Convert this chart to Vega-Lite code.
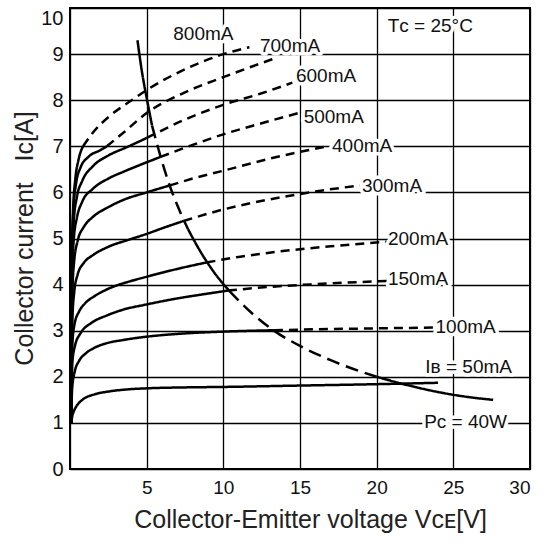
{
  "$schema": "https://vega.github.io/schema/vega-lite/v6.json",
  "width": 460,
  "height": 461,
  "autosize": {"type": "none"},
  "padding": {"left": 70, "top": 8, "right": 13, "bottom": 76},
  "background": "white",
  "config": {
    "view": {"stroke": "black", "strokeWidth": 2},
    "axis": {
      "grid": true,
      "gridColor": "black",
      "gridOpacity": 1,
      "gridWidth": 1.3,
      "domain": false,
      "ticks": false,
      "tickSize": 0,
      "labelColor": "#111",
      "labelFont": "Liberation Sans",
      "titleColor": "#222",
      "titleFont": "Liberation Sans",
      "titleFontWeight": "normal",
      "titleFontSize": 25
    }
  },
  "datasets": {
    "curves": [
      {"seg": "800a", "dash": "solid", "x": 0.08, "y": 1.0},
      {"seg": "800a", "dash": "solid", "x": 0.12, "y": 4.5},
      {"seg": "800a", "dash": "solid", "x": 0.2, "y": 5.6},
      {"seg": "800a", "dash": "solid", "x": 0.35, "y": 6.3},
      {"seg": "800a", "dash": "solid", "x": 0.55, "y": 6.7},
      {"seg": "800a", "dash": "solid", "x": 0.85, "y": 7.0},
      {"seg": "800b", "dash": "dashed", "x": 0.85, "y": 7.0},
      {"seg": "800b", "dash": "dashed", "x": 1.5, "y": 7.3},
      {"seg": "800b", "dash": "dashed", "x": 2.6, "y": 7.66},
      {"seg": "800b", "dash": "dashed", "x": 3.9, "y": 7.97},
      {"seg": "800b", "dash": "dashed", "x": 5, "y": 8.22},
      {"seg": "800b", "dash": "dashed", "x": 7.5, "y": 8.67},
      {"seg": "800b", "dash": "dashed", "x": 10, "y": 9.0},
      {"seg": "800b", "dash": "dashed", "x": 11.7, "y": 9.15},

      {"seg": "700a", "dash": "solid", "x": 0.08, "y": 1.0},
      {"seg": "700a", "dash": "solid", "x": 0.13, "y": 4.5},
      {"seg": "700a", "dash": "solid", "x": 0.22, "y": 5.6},
      {"seg": "700a", "dash": "solid", "x": 0.4, "y": 6.2},
      {"seg": "700a", "dash": "solid", "x": 0.7, "y": 6.55},
      {"seg": "700a", "dash": "solid", "x": 1.2, "y": 6.77},
      {"seg": "700a", "dash": "solid", "x": 2.0, "y": 6.92},
      {"seg": "700a", "dash": "solid", "x": 2.4, "y": 7.0},
      {"seg": "700b", "dash": "dashed", "x": 2.4, "y": 7.0},
      {"seg": "700b", "dash": "dashed", "x": 3.5, "y": 7.3},
      {"seg": "700b", "dash": "dashed", "x": 5, "y": 7.72},
      {"seg": "700b", "dash": "dashed", "x": 7.5, "y": 8.17},
      {"seg": "700b", "dash": "dashed", "x": 10, "y": 8.5},
      {"seg": "700b", "dash": "dashed", "x": 13.2, "y": 8.89},

      {"seg": "600a", "dash": "solid", "x": 0.08, "y": 1.0},
      {"seg": "600a", "dash": "solid", "x": 0.14, "y": 4.5},
      {"seg": "600a", "dash": "solid", "x": 0.25, "y": 5.4},
      {"seg": "600a", "dash": "solid", "x": 0.45, "y": 5.9},
      {"seg": "600a", "dash": "solid", "x": 0.8, "y": 6.25},
      {"seg": "600a", "dash": "solid", "x": 1.5, "y": 6.57},
      {"seg": "600a", "dash": "solid", "x": 2.5, "y": 6.8},
      {"seg": "600a", "dash": "solid", "x": 3.7, "y": 6.98},
      {"seg": "600a", "dash": "solid", "x": 5.0, "y": 7.18},
      {"seg": "600b", "dash": "dashed", "x": 5.0, "y": 7.18},
      {"seg": "600b", "dash": "dashed", "x": 7.5, "y": 7.58},
      {"seg": "600b", "dash": "dashed", "x": 10, "y": 7.9},
      {"seg": "600b", "dash": "dashed", "x": 12.5, "y": 8.15},
      {"seg": "600b", "dash": "dashed", "x": 14.5, "y": 8.38},

      {"seg": "500a", "dash": "solid", "x": 0.08, "y": 1.0},
      {"seg": "500a", "dash": "solid", "x": 0.14, "y": 4.2},
      {"seg": "500a", "dash": "solid", "x": 0.25, "y": 5.0},
      {"seg": "500a", "dash": "solid", "x": 0.45, "y": 5.45},
      {"seg": "500a", "dash": "solid", "x": 0.8, "y": 5.8},
      {"seg": "500a", "dash": "solid", "x": 1.5, "y": 6.08},
      {"seg": "500a", "dash": "solid", "x": 2.5, "y": 6.3},
      {"seg": "500a", "dash": "solid", "x": 3.5, "y": 6.45},
      {"seg": "500a", "dash": "solid", "x": 4.6, "y": 6.6},
      {"seg": "500a", "dash": "solid", "x": 5.9, "y": 6.77},
      {"seg": "500b", "dash": "dashed", "x": 5.9, "y": 6.77},
      {"seg": "500b", "dash": "dashed", "x": 8, "y": 7.03},
      {"seg": "500b", "dash": "dashed", "x": 10, "y": 7.26},
      {"seg": "500b", "dash": "dashed", "x": 12.5, "y": 7.5},
      {"seg": "500b", "dash": "dashed", "x": 15, "y": 7.73},

      {"seg": "400a", "dash": "solid", "x": 0.08, "y": 1.0},
      {"seg": "400a", "dash": "solid", "x": 0.15, "y": 3.8},
      {"seg": "400a", "dash": "solid", "x": 0.27, "y": 4.5},
      {"seg": "400a", "dash": "solid", "x": 0.5, "y": 4.95},
      {"seg": "400a", "dash": "solid", "x": 0.9, "y": 5.25},
      {"seg": "400a", "dash": "solid", "x": 1.5, "y": 5.47},
      {"seg": "400a", "dash": "solid", "x": 2.5, "y": 5.68},
      {"seg": "400a", "dash": "solid", "x": 3.5, "y": 5.84},
      {"seg": "400a", "dash": "solid", "x": 5, "y": 6.0},
      {"seg": "400a", "dash": "solid", "x": 6.5, "y": 6.15},
      {"seg": "400b", "dash": "dashed", "x": 6.5, "y": 6.15},
      {"seg": "400b", "dash": "dashed", "x": 8, "y": 6.3},
      {"seg": "400b", "dash": "dashed", "x": 10, "y": 6.47},
      {"seg": "400b", "dash": "dashed", "x": 13, "y": 6.73},
      {"seg": "400b", "dash": "dashed", "x": 16.8, "y": 7.0},

      {"seg": "300a", "dash": "solid", "x": 0.08, "y": 1.0},
      {"seg": "300a", "dash": "solid", "x": 0.15, "y": 3.2},
      {"seg": "300a", "dash": "solid", "x": 0.28, "y": 3.85},
      {"seg": "300a", "dash": "solid", "x": 0.5, "y": 4.22},
      {"seg": "300a", "dash": "solid", "x": 0.9, "y": 4.47},
      {"seg": "300a", "dash": "solid", "x": 1.5, "y": 4.64},
      {"seg": "300a", "dash": "solid", "x": 2.5, "y": 4.82},
      {"seg": "300a", "dash": "solid", "x": 3.9, "y": 4.98},
      {"seg": "300a", "dash": "solid", "x": 5, "y": 5.1},
      {"seg": "300a", "dash": "solid", "x": 6, "y": 5.22},
      {"seg": "300a", "dash": "solid", "x": 7.4, "y": 5.38},
      {"seg": "300b", "dash": "dashed", "x": 7.4, "y": 5.38},
      {"seg": "300b", "dash": "dashed", "x": 10, "y": 5.63},
      {"seg": "300b", "dash": "dashed", "x": 13.7, "y": 5.89},
      {"seg": "300b", "dash": "dashed", "x": 16, "y": 6.02},
      {"seg": "300b", "dash": "dashed", "x": 18.9, "y": 6.15},

      {"seg": "200a", "dash": "solid", "x": 0.08, "y": 1.0},
      {"seg": "200a", "dash": "solid", "x": 0.15, "y": 2.7},
      {"seg": "200a", "dash": "solid", "x": 0.3, "y": 3.15},
      {"seg": "200a", "dash": "solid", "x": 0.6, "y": 3.42},
      {"seg": "200a", "dash": "solid", "x": 1, "y": 3.6},
      {"seg": "200a", "dash": "solid", "x": 1.6, "y": 3.75},
      {"seg": "200a", "dash": "solid", "x": 2.5, "y": 3.91},
      {"seg": "200a", "dash": "solid", "x": 3.9, "y": 4.07},
      {"seg": "200a", "dash": "solid", "x": 5, "y": 4.17},
      {"seg": "200a", "dash": "solid", "x": 7, "y": 4.34},
      {"seg": "200a", "dash": "solid", "x": 8.9, "y": 4.48},
      {"seg": "200b", "dash": "dashed", "x": 8.9, "y": 4.48},
      {"seg": "200b", "dash": "dashed", "x": 11, "y": 4.6},
      {"seg": "200b", "dash": "dashed", "x": 13.7, "y": 4.72},
      {"seg": "200b", "dash": "dashed", "x": 17, "y": 4.83},
      {"seg": "200b", "dash": "dashed", "x": 20.7, "y": 4.93},

      {"seg": "150a", "dash": "solid", "x": 0.08, "y": 1.0},
      {"seg": "150a", "dash": "solid", "x": 0.15, "y": 2.3},
      {"seg": "150a", "dash": "solid", "x": 0.33, "y": 2.68},
      {"seg": "150a", "dash": "solid", "x": 0.7, "y": 2.95},
      {"seg": "150a", "dash": "solid", "x": 1.4, "y": 3.17},
      {"seg": "150a", "dash": "solid", "x": 2.4, "y": 3.33},
      {"seg": "150a", "dash": "solid", "x": 3.4, "y": 3.45},
      {"seg": "150a", "dash": "solid", "x": 5, "y": 3.57},
      {"seg": "150a", "dash": "solid", "x": 7, "y": 3.7},
      {"seg": "150a", "dash": "solid", "x": 8.5, "y": 3.78},
      {"seg": "150a", "dash": "solid", "x": 10.3, "y": 3.87},
      {"seg": "150b", "dash": "dashed", "x": 10.3, "y": 3.87},
      {"seg": "150b", "dash": "dashed", "x": 13, "y": 3.95},
      {"seg": "150b", "dash": "dashed", "x": 16, "y": 4.01},
      {"seg": "150b", "dash": "dashed", "x": 20.7, "y": 4.08},

      {"seg": "100a", "dash": "solid", "x": 0.08, "y": 1.0},
      {"seg": "100a", "dash": "solid", "x": 0.14, "y": 1.75},
      {"seg": "100a", "dash": "solid", "x": 0.3, "y": 2.1},
      {"seg": "100a", "dash": "solid", "x": 0.6, "y": 2.35},
      {"seg": "100a", "dash": "solid", "x": 1, "y": 2.5},
      {"seg": "100a", "dash": "solid", "x": 1.6, "y": 2.63},
      {"seg": "100a", "dash": "solid", "x": 2.3, "y": 2.72},
      {"seg": "100a", "dash": "solid", "x": 3.5, "y": 2.8},
      {"seg": "100a", "dash": "solid", "x": 5, "y": 2.87},
      {"seg": "100a", "dash": "solid", "x": 7, "y": 2.93},
      {"seg": "100a", "dash": "solid", "x": 10, "y": 2.98},
      {"seg": "100a", "dash": "solid", "x": 13.3, "y": 3.01},
      {"seg": "100b", "dash": "dashed", "x": 13.3, "y": 3.01},
      {"seg": "100b", "dash": "dashed", "x": 16, "y": 3.03},
      {"seg": "100b", "dash": "dashed", "x": 20, "y": 3.05},
      {"seg": "100b", "dash": "dashed", "x": 23.7, "y": 3.07},

      {"seg": "50a", "dash": "solid", "x": 0.08, "y": 1.0},
      {"seg": "50a", "dash": "solid", "x": 0.15, "y": 1.15},
      {"seg": "50a", "dash": "solid", "x": 0.26, "y": 1.26},
      {"seg": "50a", "dash": "solid", "x": 0.5, "y": 1.4},
      {"seg": "50a", "dash": "solid", "x": 0.8, "y": 1.5},
      {"seg": "50a", "dash": "solid", "x": 1.6, "y": 1.62},
      {"seg": "50a", "dash": "solid", "x": 2.5, "y": 1.68},
      {"seg": "50a", "dash": "solid", "x": 3.5, "y": 1.72},
      {"seg": "50a", "dash": "solid", "x": 5, "y": 1.75},
      {"seg": "50a", "dash": "solid", "x": 7.5, "y": 1.77},
      {"seg": "50a", "dash": "solid", "x": 10, "y": 1.78},
      {"seg": "50a", "dash": "solid", "x": 15, "y": 1.81},
      {"seg": "50a", "dash": "solid", "x": 20, "y": 1.84},
      {"seg": "50a", "dash": "solid", "x": 24, "y": 1.87},

      {"seg": "pca", "dash": "solid", "x": 4.4, "y": 9.3},
      {"seg": "pca", "dash": "solid", "x": 4.7, "y": 8.6},
      {"seg": "pca", "dash": "solid", "x": 5.0, "y": 8.05},
      {"seg": "pca", "dash": "solid", "x": 5.35, "y": 7.45},
      {"seg": "pcb", "dash": "long", "x": 5.35, "y": 7.45},
      {"seg": "pcb", "dash": "long", "x": 6, "y": 6.67},
      {"seg": "pcb", "dash": "long", "x": 6.5, "y": 6.15},
      {"seg": "pcb", "dash": "long", "x": 7, "y": 5.72},
      {"seg": "pcb", "dash": "long", "x": 7.7, "y": 5.2},
      {"seg": "pcc", "dash": "solid", "x": 7.7, "y": 5.2},
      {"seg": "pcc", "dash": "solid", "x": 8.5, "y": 4.72},
      {"seg": "pcc", "dash": "solid", "x": 9.5, "y": 4.22},
      {"seg": "pcc", "dash": "solid", "x": 10.4, "y": 3.86},
      {"seg": "pcd", "dash": "long", "x": 10.4, "y": 3.86},
      {"seg": "pcd", "dash": "long", "x": 12, "y": 3.34},
      {"seg": "pcd", "dash": "long", "x": 13.3, "y": 3.0},
      {"seg": "pcd", "dash": "long", "x": 15, "y": 2.67},
      {"seg": "pcd", "dash": "long", "x": 17, "y": 2.36},
      {"seg": "pcd", "dash": "long", "x": 20, "y": 2.0},
      {"seg": "pce", "dash": "solid", "x": 20, "y": 2.0},
      {"seg": "pce", "dash": "solid", "x": 22, "y": 1.82},
      {"seg": "pce", "dash": "solid", "x": 24, "y": 1.67},
      {"seg": "pce", "dash": "solid", "x": 26, "y": 1.56},
      {"seg": "pce", "dash": "solid", "x": 27.6, "y": 1.5}
    ],
    "labels": [
      {"t": "800mA", "x": 8.7, "y": 9.43},
      {"t": "700mA", "x": 14.35, "y": 9.17},
      {"t": "600mA", "x": 16.7, "y": 8.52},
      {"t": "500mA", "x": 17.2, "y": 7.63},
      {"t": "400mA", "x": 19.05, "y": 7.0},
      {"t": "300mA", "x": 21.0, "y": 6.13},
      {"t": "200mA", "x": 22.7, "y": 4.98},
      {"t": "150mA", "x": 22.7, "y": 4.13},
      {"t": "100mA", "x": 25.8, "y": 3.07},
      {"t": "Iʙ = 50mA", "x": 26.0, "y": 2.22},
      {"t": "Pᴄ = 40W", "x": 25.8, "y": 1.02},
      {"t": "Tᴄ = 25°C", "x": 23.5, "y": 9.6}
    ]
  },
  "encoding": {
    "x": {
      "field": "x",
      "type": "quantitative",
      "scale": {"domain": [0, 30], "nice": false},
      "axis": {
        "values": [0, 5, 10, 15, 20, 25, 30],
        "labelExpr": "datum.value == 0 ? '' : datum.label",
        "labelFontSize": 19,
        "labelPadding": 24,
        "labelBaseline": "alphabetic",
        "title": "Collector-Emitter voltage Vᴄᴇ[V]",
        "titleX": 240,
        "titleY": 58,
        "titleAlign": "center",
        "titleBaseline": "alphabetic"
      }
    },
    "y": {
      "field": "y",
      "type": "quantitative",
      "scale": {"domain": [0, 10], "nice": false},
      "axis": {
        "values": [0, 1, 2, 3, 4, 5, 6, 7, 8, 9, 10],
        "labelFontSize": 20,
        "labelPadding": 7,
        "labelBaseline": {"expr": "datum.value == 10 ? 'top' : 'middle'"},
        "title": "Collector current\u00a0\u00a0\u00a0Ic[A]",
        "titleX": -38,
        "titleY": 230,
        "titleAlign": "center",
        "titleBaseline": "alphabetic",
        "titleAngle": 270
      }
    }
  },
  "layer": [
    {
      "data": {"name": "curves"},
      "mark": {"type": "line", "color": "black", "strokeWidth": 2.5, "interpolate": "monotone", "strokeCap": "butt"},
      "encoding": {
        "detail": {"field": "seg", "type": "nominal"},
        "strokeDash": {
          "field": "dash",
          "type": "nominal",
          "scale": {"domain": ["solid", "dashed", "long"], "range": [[1, 0], [9, 6], [13, 7]]},
          "legend": null
        }
      }
    },
    {
      "data": {"name": "labels"},
      "mark": {"type": "text", "font": "Liberation Sans", "fontSize": 19, "fill": "white", "stroke": "white", "strokeWidth": 7, "strokeJoin": "round", "align": "center", "baseline": "middle"},
      "encoding": {"text": {"field": "t"}}
    },
    {
      "data": {"name": "labels"},
      "mark": {"type": "text", "font": "Liberation Sans", "fontSize": 19, "fill": "#111", "align": "center", "baseline": "middle"},
      "encoding": {"text": {"field": "t"}}
    }
  ]
}
